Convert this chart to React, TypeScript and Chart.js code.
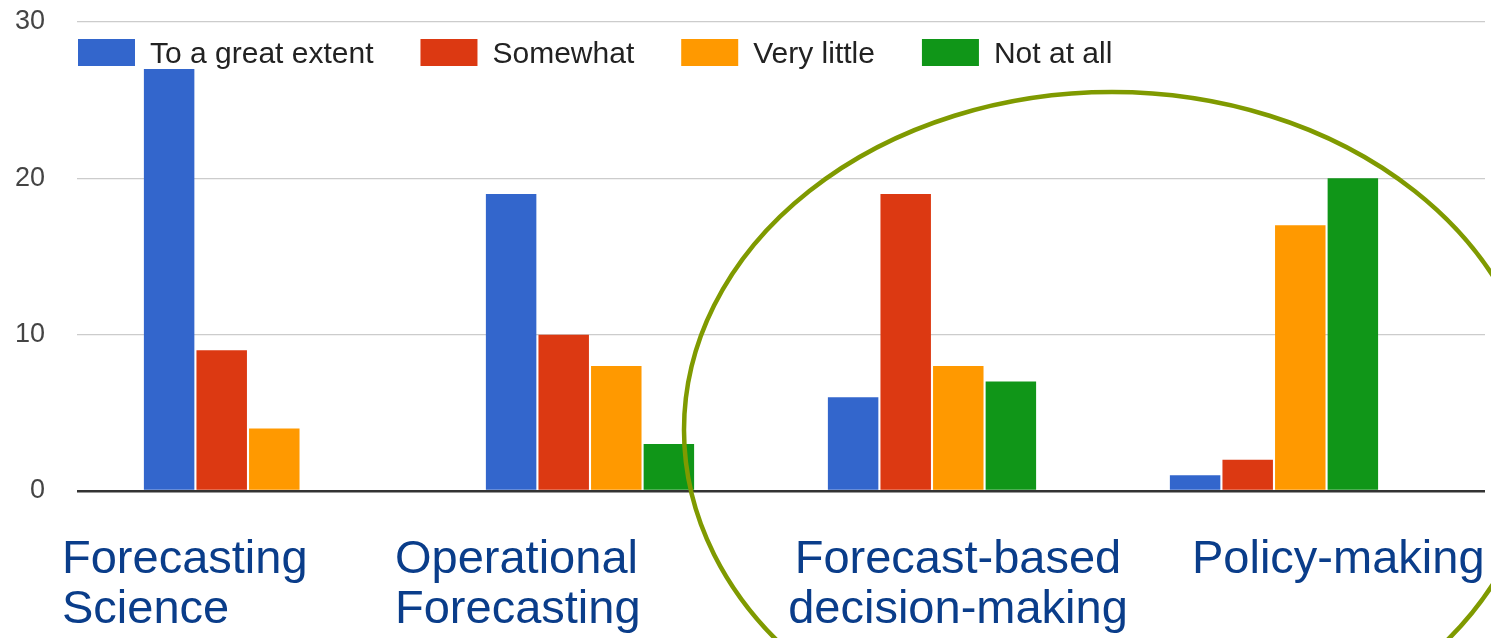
import React, { useEffect, useRef } from "react";
import { Chart, registerables } from "chart.js";

Chart.register(...registerables);

// ---------- data ----------
const categories: string[][] = [
  ["Forecasting", "Science"],
  ["Operational", "Forecasting"],
  ["Forecast-based", "decision-making"],
  ["Policy-making"],
];
const seriesNames = ["To a great extent", "Somewhat", "Very little", "Not at all"];
const toAGreatExtent = [27, 19, 6, 1];
const somewhat = [9, 10, 19, 2];
const veryLittle = [4, 8, 8, 17];
const notAtAll = [0, 3, 7, 20];
const yTicks = [0, 10, 20, 30];

// ---------- styles ----------
const seriesColors = ["#3366cc", "#dc3912", "#ff9900", "#109618"];
const FONT = '"Liberation Sans", Arial, Helvetica, sans-serif';
const LABEL_COLOR = "#0a3d8a";
const LABEL_LAYOUT = [
  { align: "left", dx: -186 },
  { align: "left", dx: -195 },
  { align: "center", dx: 26 },
  { align: "left", dx: -82 },
];
const ELLIPSE = { cx: 1112, cy: 430, rx: 428, ry: 338, color: "#7f9a00", width: 4.5 };

const legendPlugin = {
  id: "customLegend",
  afterDraw(chart: any) {
    const ctx = chart.ctx;
    ctx.save();
    ctx.font = `30px ${FONT}`;
    ctx.textAlign = "left";
    ctx.textBaseline = "alphabetic";
    let x = chart.chartArea.left + 1;
    chart.data.datasets.forEach((ds: any) => {
      ctx.fillStyle = ds.backgroundColor;
      ctx.fillRect(x, 39, 57, 27);
      const tx = x + 57 + 15;
      ctx.fillStyle = "#222222";
      ctx.fillText(ds.label, tx, 63);
      x = tx + ctx.measureText(ds.label).width + 47;
    });
    ctx.restore();
  },
};

const categoryLabelPlugin = {
  id: "categoryLabels",
  afterDraw(chart: any) {
    const ctx = chart.ctx;
    const xs = chart.scales.x;
    const area = chart.chartArea;
    ctx.save();
    ctx.font = `47px ${FONT}`;
    ctx.fillStyle = LABEL_COLOR;
    ctx.textBaseline = "alphabetic";
    categories.forEach((lines, i) => {
      const lay = LABEL_LAYOUT[i];
      const px = xs.getPixelForValue(i) + lay.dx;
      ctx.textAlign = lay.align;
      lines.forEach((line, j) => {
        ctx.fillText(line, px, area.bottom + 82 + j * 50);
      });
    });
    ctx.restore();
  },
};

const ellipsePlugin = {
  id: "highlightEllipse",
  afterDraw(chart: any) {
    const ctx = chart.ctx;
    ctx.save();
    ctx.beginPath();
    ctx.ellipse(ELLIPSE.cx, ELLIPSE.cy, ELLIPSE.rx, ELLIPSE.ry, 0, 0, Math.PI * 2);
    ctx.strokeStyle = ELLIPSE.color;
    ctx.lineWidth = ELLIPSE.width;
    ctx.stroke();
    ctx.restore();
  },
};

export default function App() {
  const canvasRef = useRef<HTMLCanvasElement | null>(null);

  useEffect(() => {
    if (!canvasRef.current) return;
    const series = [toAGreatExtent, somewhat, veryLittle, notAtAll];
    const chart = new Chart(canvasRef.current, {
      type: "bar",
      data: {
        datasets: series.map((vals, s) => ({
          label: seriesNames[s],
          data: vals.map((v, i) => ({ x: i, y: v })),
          backgroundColor: seriesColors[s],
          borderWidth: 0,
          categoryPercentage: 0.615,
          barPercentage: 0.96,
        })),
      },
      options: {
        animation: false,
        responsive: true,
        maintainAspectRatio: false,
        layout: { padding: { top: 22, right: 6, bottom: 147, left: 0 } },
        plugins: {
          legend: { display: false },
          tooltip: { enabled: false },
        },
        scales: {
          x: {
            type: "linear",
            display: false,
            offset: false,
            min: -0.5,
            max: 3.617,
            afterBuildTicks: (s: any) => {
              s.ticks = categories.map((_, i) => ({ value: i }));
            },
          },
          y: {
            type: "linear",
            min: 0,
            max: 30,
            afterBuildTicks: (s: any) => {
              s.ticks = yTicks.map((v) => ({ value: v }));
            },
            ticks: {
              padding: 32,
              color: "#444444",
              font: { family: FONT, size: 27 },
            },
            grid: {
              drawTicks: false,
              color: (c: any) => (c.tick && c.tick.value === 0 ? "#333333" : "#cccccc"),
              lineWidth: (c: any) => (c.tick && c.tick.value === 0 ? 2.5 : 1.3),
            },
            border: { display: false },
            afterFit: (s: any) => {
              s.width = 77;
              s.paddingTop = 0;
              s.paddingBottom = 0;
            },
          },
        },
      } as any,
      plugins: [legendPlugin, categoryLabelPlugin, ellipsePlugin],
    });
    return () => chart.destroy();
  }, []);

  return (
    <div style={{ position: "fixed", left: 0, top: 0, width: 1491, height: 638, background: "#ffffff" }}>
      <canvas ref={canvasRef} />
    </div>
  );
}
